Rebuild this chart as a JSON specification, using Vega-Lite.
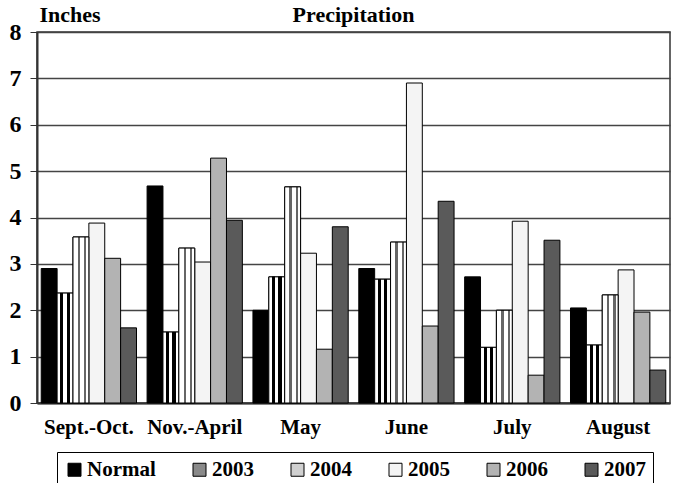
{
  "$schema": "https://vega.github.io/schema/vega-lite/v6.json",
  "autosize": {"type": "none"},
  "width": 633,
  "height": 371,
  "padding": {"left": 37, "top": 32, "right": 7, "bottom": 80},
  "background": "white",
  "title": {"text": "Precipitation", "font": "Liberation Serif", "fontSize": 22, "fontWeight": "bold", "color": "#000", "offset": -24, "anchor": "middle"},
  "config": {
    "view": {"stroke": "#333", "strokeWidth": 1.5},
    "font": "Liberation Serif"
  },
  "data": {"values": [
    {"period": "Sept.-Oct.", "series": "Normal", "value": 2.9},
    {"period": "Sept.-Oct.", "series": "2003", "value": 2.37},
    {"period": "Sept.-Oct.", "series": "2004", "value": 3.58},
    {"period": "Sept.-Oct.", "series": "2005", "value": 3.88},
    {"period": "Sept.-Oct.", "series": "2006", "value": 3.12},
    {"period": "Sept.-Oct.", "series": "2007", "value": 1.62},
    {"period": "Nov.-April", "series": "Normal", "value": 4.68},
    {"period": "Nov.-April", "series": "2003", "value": 1.53},
    {"period": "Nov.-April", "series": "2004", "value": 3.34},
    {"period": "Nov.-April", "series": "2005", "value": 3.04},
    {"period": "Nov.-April", "series": "2006", "value": 5.28},
    {"period": "Nov.-April", "series": "2007", "value": 3.94},
    {"period": "May", "series": "Normal", "value": 2.0},
    {"period": "May", "series": "2003", "value": 2.72},
    {"period": "May", "series": "2004", "value": 4.66},
    {"period": "May", "series": "2005", "value": 3.23},
    {"period": "May", "series": "2006", "value": 1.16},
    {"period": "May", "series": "2007", "value": 3.8},
    {"period": "June", "series": "Normal", "value": 2.9},
    {"period": "June", "series": "2003", "value": 2.67},
    {"period": "June", "series": "2004", "value": 3.47},
    {"period": "June", "series": "2005", "value": 6.9},
    {"period": "June", "series": "2006", "value": 1.66},
    {"period": "June", "series": "2007", "value": 4.35},
    {"period": "July", "series": "Normal", "value": 2.72},
    {"period": "July", "series": "2003", "value": 1.2},
    {"period": "July", "series": "2004", "value": 2.0},
    {"period": "July", "series": "2005", "value": 3.92},
    {"period": "July", "series": "2006", "value": 0.6},
    {"period": "July", "series": "2007", "value": 3.51},
    {"period": "August", "series": "Normal", "value": 2.05},
    {"period": "August", "series": "2003", "value": 1.25},
    {"period": "August", "series": "2004", "value": 2.33},
    {"period": "August", "series": "2005", "value": 2.87},
    {"period": "August", "series": "2006", "value": 1.96},
    {"period": "August", "series": "2007", "value": 0.71}
  ]},
  "encoding": {
    "x": {
      "field": "period", "type": "nominal",
      "sort": ["Sept.-Oct.", "Nov.-April", "May", "June", "July", "August"],
      "scale": {"paddingInner": 0.1, "paddingOuter": 0.04},
      "axis": {"title": null, "labelAngle": 0, "labelFont": "Liberation Serif", "labelFontSize": 21, "labelFontWeight": "bold", "labelColor": "#000", "labelPadding": 13, "ticks": false, "domainColor": "#333", "domainWidth": 2}
    },
    "xOffset": {
      "field": "series", "type": "nominal",
      "scale": {"domain": ["Normal", "2003", "2004", "2005", "2006", "2007"], "paddingInner": 0, "paddingOuter": 0}
    },
    "y": {
      "field": "value", "type": "quantitative",
      "scale": {"domain": [0, 8], "nice": false},
      "axis": {"title": "Inches", "titleAngle": 0, "titleX": 2, "titleY": -6, "titleAlign": "left", "titleFont": "Liberation Serif", "titleFontSize": 22, "titleFontWeight": "bold", "titleColor": "#000", "values": [0,1,2,3,4,5,6,7,8], "labelFont": "Liberation Serif", "labelFontSize": 24, "labelFontWeight": "bold", "labelColor": "#000", "labelPadding": 9, "tickColor": "#333", "tickSize": 7, "domainColor": "#333", "domainWidth": 2, "grid": true, "gridColor": "#444", "gridWidth": 1.5}
    }
  },
  "layer": [
    {
      "mark": {"type": "bar", "stroke": "#000", "strokeWidth": 1},
      "encoding": {
        "fill": {
          "field": "series", "type": "nominal",
          "scale": {"domain": ["Normal", "2003", "2004", "2005", "2006", "2007"], "range": ["#000000", "#8a8a8a", "#d0d0d0", "#f4f4f4", "#b3b3b3", "#5a5a5a"]},
          "legend": {
            "title": null, "orient": "none", "direction": "horizontal", "columns": 6,
            "legendX": 20, "legendY": 420,
            "symbolType": "square", "symbolSize": 169, "symbolStrokeColor": "#000", "symbolStrokeWidth": 1,
            "labelFont": "Liberation Serif", "labelFontSize": 21, "labelFontWeight": "bold", "labelColor": "#000", "labelOffset": 2,
            "columnPadding": 33, "padding": 7, "strokeColor": "#000", "fillColor": "#fff",
            "labelLimit": 200
          }
        }
      }
    },
    {
      "transform": [{"filter": "datum.series == '2003'"}],
      "mark": {"type": "bar", "stroke": "#000", "strokeWidth": 1,
        "fill": {"gradient": "linear", "x1": 0, "y1": 0, "x2": 1, "y2": 0, "stops": [
          {"offset": 0, "color": "#fff"}, {"offset": 0.2, "color": "#fff"},
          {"offset": 0.2, "color": "#000"}, {"offset": 0.4, "color": "#000"},
          {"offset": 0.4, "color": "#fff"}, {"offset": 0.6, "color": "#fff"},
          {"offset": 0.6, "color": "#000"}, {"offset": 0.8, "color": "#000"},
          {"offset": 0.8, "color": "#fff"}, {"offset": 1, "color": "#fff"}]}}
    },
    {
      "transform": [{"filter": "datum.series == '2004'"}],
      "mark": {"type": "bar", "stroke": "#000", "strokeWidth": 1,
        "fill": {"gradient": "linear", "x1": 0, "y1": 0, "x2": 1, "y2": 0, "stops": [
          {"offset": 0, "color": "#fff"}, {"offset": 0.3, "color": "#fff"},
          {"offset": 0.3, "color": "#666"}, {"offset": 0.45, "color": "#666"},
          {"offset": 0.45, "color": "#fff"}, {"offset": 0.7, "color": "#fff"},
          {"offset": 0.7, "color": "#666"}, {"offset": 0.85, "color": "#666"},
          {"offset": 0.85, "color": "#fff"}, {"offset": 1, "color": "#fff"}]}}
    }
  ]
}
